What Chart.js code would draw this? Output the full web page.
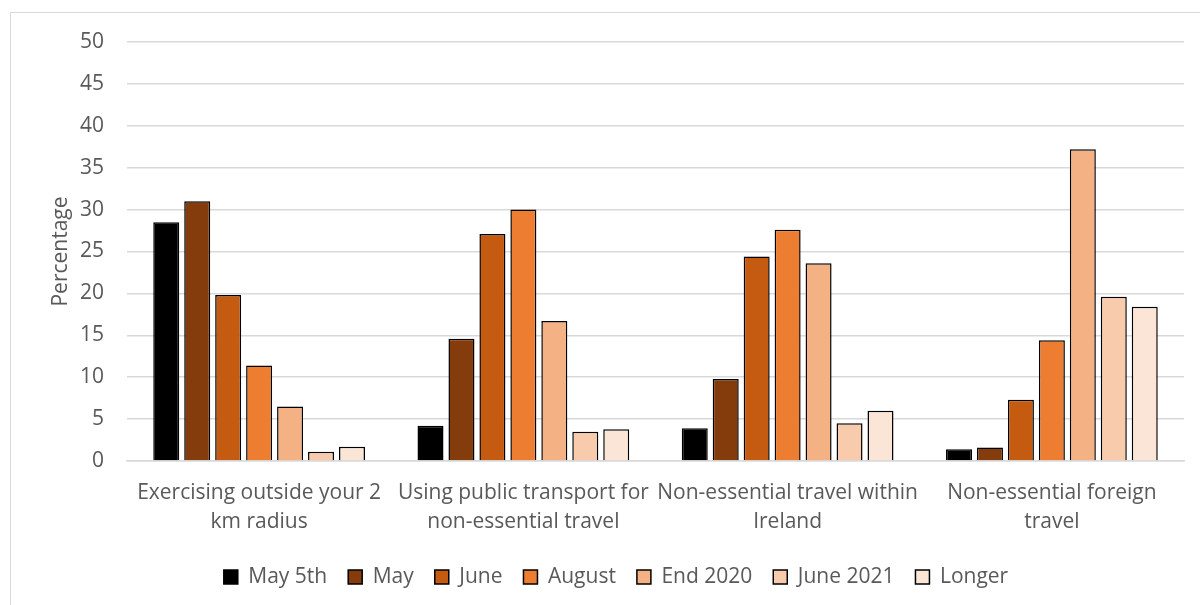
<!DOCTYPE html>
<html>
<head>
<meta charset="utf-8">
<script src="https://cdn.jsdelivr.net/npm/chart.js@4.4.0/dist/chart.umd.min.js"></script>
<style>
  html, body { margin: 0; padding: 0; background: #fff; overflow: hidden; }
  #frame { position: absolute; left: 10px; top: 12px; width: 1212px; height: 620px; border: 1.5px solid #d9d9d9; }
  #wrap { position: absolute; left: 0; top: 0; width: 1232px; height: 605px; }
</style>
</head>
<body>
<div id="frame"></div>
<div id="wrap"><canvas id="chart"></canvas></div>
<script>
// categories (multi-line, as wrapped in the original)
let categories = [
  ['Exercising outside your 2', 'km radius'],
  ['Using public transport for', 'non-essential travel'],
  ['Non-essential travel within', 'Ireland'],
  ['Non-essential foreign', 'travel']
];
let seriesNames = ['May 5th', 'May', 'June', 'August', 'End 2020', 'June 2021', 'Longer'];
let seriesColors = ['#000000', '#843c0c', '#c55a11', '#ed7d31', '#f4b183', '#f8cbad', '#fbe5d6'];

let may5th = [28.5, 4.2, 3.9, 1.4];
let may = [31.0, 14.6, 9.8, 1.6];
let june = [19.8, 27.1, 24.4, 7.3];
let august = [11.4, 30.0, 27.6, 14.4];
let end2020 = [6.5, 16.7, 23.6, 37.2];
let june2021 = [1.1, 3.5, 4.5, 19.6];
let longer = [1.7, 3.8, 6.0, 18.4];
let allSeries = [may5th, may, june, august, end2020, june2021, longer];

let yTicks = [0, 5, 10, 15, 20, 25, 30, 35, 40, 45, 50];

let fontFam = '"Open Sans", sans-serif';
let txtColor = '#595959';

let datasets = [];
for (let i = 0; i < seriesNames.length; i++) {
  datasets.push({
    label: seriesNames[i],
    data: allSeries[i],
    backgroundColor: seriesColors[i],
    borderColor: '#000000',
    borderWidth: 1.5,
    categoryPercentage: 0.82,
    barPercentage: 0.84
  });
}

new Chart(document.getElementById('chart'), {
  type: 'bar',
  data: { labels: categories, datasets: datasets },
  options: {
    responsive: true,
    maintainAspectRatio: false,
    animation: false,
    layout: { padding: { top: 42, right: 48, bottom: 7.5, left: 48 } },
    plugins: {
      tooltip: { enabled: false },
      legend: {
        position: 'bottom',
        labels: {
          color: txtColor,
          font: { family: fontFam, size: 21 },
          boxWidth: 14,
          boxHeight: 14,
          padding: 21
        }
      }
    },
    scales: {
      x: {
        grid: { display: false },
        border: { display: true, color: '#d9d9d9', width: 1.5 },
        ticks: {
          color: txtColor,
          font: { family: fontFam, size: 21, lineHeight: 1.357 },
          padding: 10,
          maxRotation: 0,
          autoSkip: false
        },
        afterFit: function(scale) { scale.height = 84.5; }
      },
      y: {
        min: 0,
        max: 50,
        afterBuildTicks: function(scale) {
          scale.ticks = yTicks.map(function(v) { return { value: v }; });
        },
        afterFit: function(scale) { scale.width = 79; },
        grid: { color: '#d9d9d9', lineWidth: 1.5, drawTicks: false },
        border: { display: false },
        ticks: {
          color: txtColor,
          font: { family: fontFam, size: 21 },
          padding: 23
        },
        title: {
          display: true,
          text: 'Percentage',
          color: txtColor,
          font: { family: fontFam, size: 21 },
          padding: { top: 0, bottom: 0 }
        }
      }
    }
  }
});
</script>
</body>
</html>
